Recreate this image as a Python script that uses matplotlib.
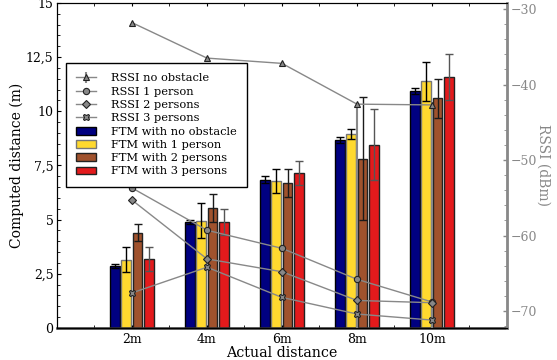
import numpy as np
import matplotlib
matplotlib.use("Agg")
import matplotlib.pyplot as plt
from matplotlib.ticker import MultipleLocator

plt.rcParams['font.family'] = ['DejaVu Serif']

# data
dist_labels = ['2m', '4m', '6m', '8m', '10m']
dist = [2, 4, 6, 8, 10]

ftm_no_obstacle = [2.86, 4.88, 6.85, 8.68, 10.95]
ftm_no_obstacle_err = [0.1, 0.1, 0.15, 0.12, 0.14]
ftm_1_person = [3.15, 4.95, 6.8, 8.94, 11.38]
ftm_1_person_err = [0.58, 0.8, 0.55, 0.23, 0.9]
ftm_2_persons = [4.4, 5.55, 6.7, 7.82, 10.6]
ftm_2_persons_err = [0.38, 0.65, 0.65, 2.83, 0.9]
ftm_3_persons = [3.18, 4.88, 7.14, 8.46, 11.58]
ftm_3_persons_err = [0.57, 0.6, 0.55, 1.64, 1.05]

rssi_no_obstacle = [-31.8, -36.5, -37.2, -42.6, -42.7]
rssi_no_obstacle_err_low = [0, 0, 0, 35, 35]
rssi_1_person = [-53.7, -59.3, -61.7, -65.8, -68.8]
rssi_2_persons = [-55.3, -63.1, -64.8, -68.6, -68.9]
rssi_3_persons = [-67.6, -64.2, -68.2, -70.4, -71.2]

fig = plt.figure(figsize=(5.57, 3.6), dpi=100)
ax = fig.add_axes([0.1023, 0.0889, 0.8079, 0.9028])
ax2 = ax.twinx()

x = np.array(dist, dtype=float)
w = 0.26
bars = [
    (ftm_no_obstacle, ftm_no_obstacle_err, '#000080', 'black', 'black', 'FTM with no obstacle', -0.45),
    (ftm_1_person, ftm_1_person_err, '#FFD92F', '#777777', 'black', 'FTM with 1 person', -0.15),
    (ftm_2_persons, ftm_2_persons_err, '#A0522D', '#222222', '#1a1a1a', 'FTM with 2 persons', 0.15),
    (ftm_3_persons, ftm_3_persons_err, '#E31A1C', '#222222', '#555555', 'FTM with 3 persons', 0.45),
]
bar_handles = []
for vals, err, fc, ec, errc, lab, off in bars:
    b = ax.bar(x + off, vals, w, color=fc, edgecolor=ec, linewidth=1.0, label=lab,
               yerr=err, error_kw=dict(ecolor=errc, capsize=3, elinewidth=1, capthick=1))
    bar_handles.append(b)

ax.set_xlim(0, 12)
ax.set_ylim(0, 15)
ax.set_xticks(dist)
ax.set_xticklabels(dist_labels, fontsize=9)
ax.xaxis.set_minor_locator(MultipleLocator(1))
ax.set_yticks([0, 2.5, 5, 7.5, 10, 12.5, 15])
ax.set_yticklabels(['0', '2,5', '5', '7,5', '10', '12,5', '15'], fontsize=9)
ax.yaxis.set_minor_locator(MultipleLocator(0.5))
ax.tick_params(axis='x', which='both', direction='in', top=True, bottom=True, length=2.5)
ax.tick_params(axis='y', which='both', direction='in', left=True, right=False, pad=2.5)
ax.tick_params(axis='y', which='major', length=3)
ax.tick_params(axis='y', which='minor', length=2)
ax.set_xlabel('Actual distance', fontsize=10.3, labelpad=0)
ax.set_ylabel('Computed distance (m)', fontsize=10, labelpad=1)
ax.spines['bottom'].set_linewidth(1.8)
ax.spines['bottom'].set_color('#333333')

line_kw = dict(color='#888888', linewidth=1.0, markersize=4.5, markerfacecolor='#888888',
               markeredgecolor='#222222', markeredgewidth=0.8)
l0 = ax2.errorbar(x, rssi_no_obstacle, yerr=[rssi_no_obstacle_err_low, [0] * 5],
                  marker='^', ecolor='#888888', elinewidth=1.5, capsize=0,
                  label='RSSI no obstacle', **line_kw)
l1, = ax2.plot(x, rssi_1_person, marker='o', label='RSSI 1 person', **line_kw)
l2, = ax2.plot(x, rssi_2_persons, marker='D', label='RSSI 2 persons', **line_kw)
l3, = ax2.plot(x, rssi_3_persons, marker='X', label='RSSI 3 persons', **line_kw)

ax2.set_ylim(-72.25, -29.2)
ax2.set_yticks([-70, -60, -50, -40, -30])
ax2.yaxis.set_minor_locator(MultipleLocator(2))
ax2.tick_params(axis='y', which='major', direction='in', length=3, width=1,
                colors='#888888', labelsize=9, pad=3)
ax2.tick_params(axis='y', which='minor', direction='in', length=2, colors='#888888')
ax2.spines['right'].set_color('#888888')
ax2.spines['right'].set_linewidth(2)
ax2.set_ylabel('RSSI (dBm)', fontsize=10, color='#888888', rotation=270, labelpad=9)

handles = [l0, l1, l2, l3] + bar_handles
labels = ['RSSI no obstacle', 'RSSI 1 person', 'RSSI 2 persons', 'RSSI 3 persons',
          'FTM with no obstacle', 'FTM with 1 person', 'FTM with 2 persons', 'FTM with 3 persons']
leg = ax2.legend(handles, labels, loc='upper left', bbox_to_anchor=(0.02, 0.815),
                 borderaxespad=0, fontsize=8.2, fancybox=False, framealpha=1, edgecolor='black',
                 handlelength=1.7, handletextpad=1.35, labelspacing=0.29, borderpad=0.9)
leg.get_frame().set_linewidth(1.0)

fig.savefig('out.png', dpi=100)
